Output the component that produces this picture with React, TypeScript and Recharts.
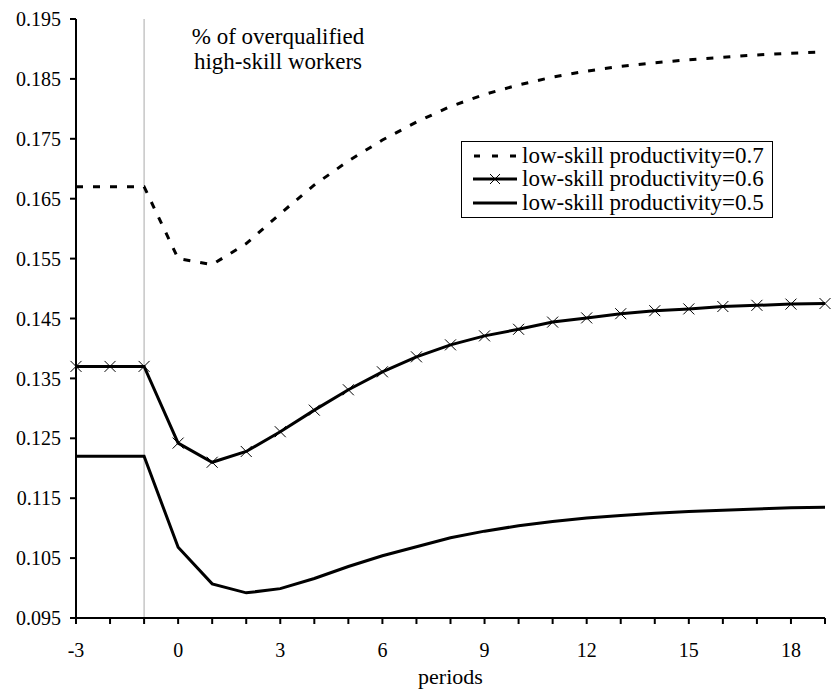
import React from 'react';
import { LineChart, Line, XAxis, YAxis, ReferenceLine, Legend } from 'recharts';

const periods = [-3, -2, -1, 0, 1, 2, 3, 4, 5, 6, 7, 8, 9, 10, 11, 12, 13, 14, 15, 16, 17, 18, 19];
const prod07 = [0.167, 0.167, 0.167, 0.155, 0.154, 0.1575, 0.1625, 0.1673, 0.1713, 0.1748, 0.1778, 0.1804, 0.1824, 0.184, 0.1853, 0.1863, 0.1871, 0.1877, 0.1882, 0.1886, 0.189, 0.1893, 0.1895];
const prod06 = [0.137, 0.137, 0.137, 0.1242, 0.121, 0.1228, 0.1261, 0.1297, 0.1331, 0.1361, 0.1386, 0.1406, 0.1421, 0.1432, 0.1444, 0.1451, 0.1458, 0.1463, 0.1466, 0.147, 0.1472, 0.1474, 0.1475];
const prod05 = [0.122, 0.122, 0.122, 0.1068, 0.1007, 0.0992, 0.0999, 0.1016, 0.1036, 0.1054, 0.1069, 0.1084, 0.1095, 0.1104, 0.1111, 0.1117, 0.1121, 0.1125, 0.1128, 0.113, 0.1132, 0.1134, 0.1135];

const yTicks = [0.095, 0.105, 0.115, 0.125, 0.135, 0.145, 0.155, 0.165, 0.175, 0.185, 0.195];
const xTickLabels = [-3, 0, 3, 6, 9, 12, 15, 18];

const seriesNames = ['low-skill productivity=0.7', 'low-skill productivity=0.6', 'low-skill productivity=0.5'];

const FONT = '"Liberation Serif", "Times New Roman", serif';

const data = periods.map((p, i) => ({ period: p, p07: prod07[i], p06: prod06[i], p05: prod05[i] }));

const XTick = (props: any) => {
  const { x, y, payload } = props;
  if (!xTickLabels.includes(payload.value)) return null;
  return (
    <text x={x} y={y} dy="0.71em" textAnchor="middle" fill="#000" fontSize={20} fontFamily={FONT}>
      {payload.value}
    </text>
  );
};

const CrossDot = (props: any) => {
  const { cx, cy, index } = props;
  if (cx == null || cy == null) return null;
  const s = 5.5;
  return (
    <g key={`x-${index}`}>
      <line x1={cx - s} y1={cy - s} x2={cx + s} y2={cy + s} stroke="#000" strokeWidth={1} />
      <line x1={cx - s} y1={cy + s} x2={cx + s} y2={cy - s} stroke="#000" strokeWidth={1} />
    </g>
  );
};

const renderLegend = () => (
  <div style={{ border: '1px solid #000', background: '#fff', padding: '2px 0 2px 11px', fontFamily: FONT, fontSize: 23, lineHeight: '24px' }}>
    {seriesNames.map((name, i) => (
      <div key={name} style={{ display: 'flex', alignItems: 'center', height: 23.5, whiteSpace: 'nowrap' }}>
        <svg width={45} height={16} style={{ marginRight: 4, flex: 'none' }}>
          {i === 0 && <line x1={1} y1={8} x2={45} y2={8} stroke="#000" strokeWidth={3} strokeDasharray="6 12" />}
          {i === 1 && (
            <g>
              <line x1={0} y1={8} x2={44} y2={8} stroke="#000" strokeWidth={3} />
              <line x1={17} y1={3} x2={27} y2={13} stroke="#000" strokeWidth={1} />
              <line x1={17} y1={13} x2={27} y2={3} stroke="#000" strokeWidth={1} />
            </g>
          )}
          {i === 2 && <line x1={0} y1={8} x2={44} y2={8} stroke="#000" strokeWidth={3} />}
        </svg>
        <span>{name}</span>
      </div>
    ))}
  </div>
);

export default function App() {
  return (
    <div style={{ position: 'absolute', left: 0, top: 0, width: 833, height: 694, background: '#fff' }}>
      <LineChart width={833} height={694} data={data} margin={{ top: 19, right: 8, left: 0, bottom: 0 }}>
        <XAxis
          type="number"
          dataKey="period"
          domain={[-3, 19]}
          ticks={periods}
          interval={0}
          tick={<XTick />}
          tickSize={6}
          tickMargin={19}
          height={76}
          axisLine={{ stroke: '#000', strokeWidth: 2 }}
          tickLine={{ stroke: '#000', strokeWidth: 2 }}
          label={{ value: 'periods', position: 'insideBottom', offset: 10, fill: '#000', fontSize: 22, fontFamily: FONT }}
        />
        <YAxis
          type="number"
          domain={[0.095, 0.195]}
          ticks={yTicks}
          interval={0}
          width={76}
          tickSize={6}
          tickMargin={9}
          tickFormatter={(v: number) => v.toFixed(3)}
          tick={{ fill: '#000', fontSize: 20, fontFamily: FONT }}
          axisLine={{ stroke: '#000', strokeWidth: 2 }}
          tickLine={{ stroke: '#000', strokeWidth: 2 }}
        />
        <ReferenceLine x={-1} stroke="#aaaaaa" strokeWidth={1} />
        <Line type="linear" dataKey="p07" name={seriesNames[0]} stroke="#000" strokeWidth={3} strokeDasharray="7 10" dot={false} isAnimationActive={false} />
        <Line type="linear" dataKey="p06" name={seriesNames[1]} stroke="#000" strokeWidth={3} dot={<CrossDot />} isAnimationActive={false} />
        <Line type="linear" dataKey="p05" name={seriesNames[2]} stroke="#000" strokeWidth={3} dot={false} isAnimationActive={false} />
        <Legend
          layout="vertical"
          align="center"
          verticalAlign="middle"
          content={renderLegend}
          wrapperStyle={{ position: 'absolute', left: 461, top: 141, width: 312 }}
        />
      </LineChart>
      <div
        style={{
          position: 'absolute',
          left: 158,
          top: 24,
          width: 240,
          textAlign: 'center',
          fontFamily: FONT,
          fontSize: 23,
          lineHeight: '25px',
        }}
      >
        % of overqualified
        <br />
        high-skill workers
      </div>
    </div>
  );
}
